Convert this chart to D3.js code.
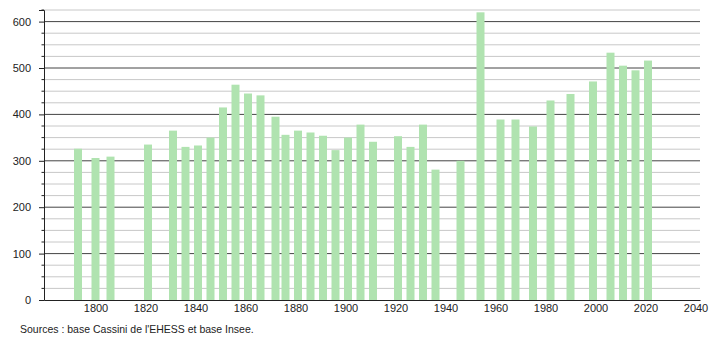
<!DOCTYPE html>
<html>
<head>
<meta charset="utf-8">
<script src="https://cdn.jsdelivr.net/npm/d3@7"></script>
<style>
  body { margin: 0; background: #fff; }
  svg { font-family: "Liberation Sans", Arial, sans-serif; }
</style>
</head>
<body>
<div id="chart"></div>
<script>
// Années de recensement et population
var annees = [1793, 1800, 1806, 1821, 1831, 1836, 1841, 1846, 1851, 1856, 1861, 1866,
  1872, 1876, 1881, 1886, 1891, 1896, 1901, 1906, 1911, 1921, 1926, 1931, 1936,
  1946, 1954, 1962, 1968, 1975, 1982, 1990, 1999, 2006, 2011, 2016, 2021];
var population = [326, 306, 309, 335, 365, 330, 333, 350, 415, 464, 445, 441,
  395, 356, 365, 361, 354, 323, 350, 378, 341, 353, 330, 378, 281,
  300, 620, 389, 389, 374, 430, 444, 471, 533, 505, 495, 516];
var ticksX = [1800, 1820, 1840, 1860, 1880, 1900, 1920, 1940, 1960, 1980, 2000, 2020, 2040];
var ticksY = [0, 100, 200, 300, 400, 500, 600];
var source = "Sources : base Cassini de l'EHESS et base Insee.";

var width = 710, height = 340;
var margin = {top: 10, right: 10, bottom: 40, left: 44};

var svg = d3.select("#chart").append("svg")
  .attr("width", width)
  .attr("height", height);

// échelles
var x = d3.scaleLinear()
  .domain([1779.4, 2041.8])
  .range([margin.left, 700]);
var y = d3.scaleLinear()
  .domain([0, 625])
  .range([height - margin.bottom, margin.top]);

// lignes de grille (mineures tous les 25, majeures tous les 100)
var mineures = d3.range(25, 626, 25).filter(function(d) { return d % 100 != 0; });
svg.append("g").selectAll("line").data(mineures).enter().append("line")
  .attr("x1", margin.left).attr("x2", 700)
  .attr("y1", function(d) { return y(d); }).attr("y2", function(d) { return y(d); })
  .attr("stroke", "#c8c8c8").attr("stroke-width", 1);
svg.append("g").selectAll("line").data(ticksY.slice(1)).enter().append("line")
  .attr("x1", margin.left).attr("x2", 700)
  .attr("y1", function(d) { return y(d); }).attr("y2", function(d) { return y(d); })
  .attr("stroke", "#444").attr("stroke-width", 1);

// barres
svg.append("g").selectAll("rect").data(annees).enter().append("rect")
  .attr("x", function(d) { return x(d) - 4; })
  .attr("y", function(d, i) { return y(population[i]); })
  .attr("width", 8)
  .attr("height", function(d, i) { return y(0) - y(population[i]); })
  .attr("fill", "#b0e3b0");

// axe Y
var yAxis = d3.axisLeft(y).tickValues(ticksY).tickSize(5).tickPadding(8).tickFormat(d3.format("d"));
var yAxisG = svg.append("g")
  .attr("transform", "translate(" + margin.left + ",0)")
  .call(yAxis);
yAxisG.select(".domain").attr("stroke", "#222");
yAxisG.selectAll(".tick line").attr("stroke", "#222");
yAxisG.selectAll("text").attr("fill", "#222").style("font-size", "11px");

// petites graduations
svg.append("g").selectAll("line").data(mineures).enter().append("line")
  .attr("x1", margin.left - 2.5).attr("x2", margin.left)
  .attr("y1", function(d) { return y(d); }).attr("y2", function(d) { return y(d); })
  .attr("stroke", "#222");

// axe X
var xAxis = d3.axisBottom(x).tickValues(ticksX).tickSize(0).tickPadding(4).tickFormat(d3.format("d"));
var xAxisG = svg.append("g")
  .attr("transform", "translate(0," + y(0) + ")")
  .call(xAxis);
xAxisG.select(".domain").attr("stroke", "#222").attr("stroke-width", 1.2);
xAxisG.selectAll("text").attr("fill", "#222").style("font-size", "11px");

// source
svg.append("text")
  .attr("x", 20)
  .attr("y", 333)
  .attr("fill", "#222")
  .style("font-size", "10.5px")
  .text(source);
</script>
</body>
</html>
